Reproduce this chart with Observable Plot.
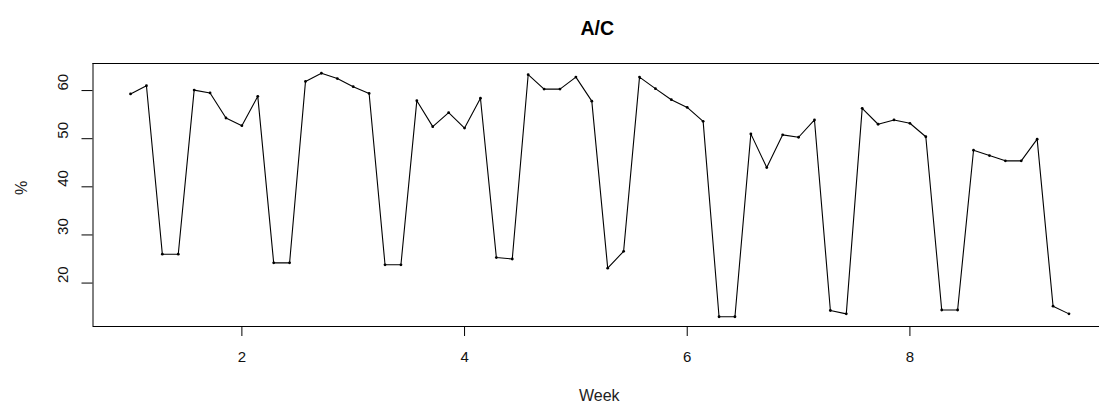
<!DOCTYPE html>
<html>
<head>
<meta charset="utf-8">
<script src="https://cdn.jsdelivr.net/npm/d3@7"></script>
<script src="https://cdn.jsdelivr.net/npm/@observablehq/plot@0.6"></script>
<style>
  html, body { margin: 0; padding: 0; background: #fff; overflow: hidden; }
  svg { display: block; }
</style>
</head>
<body>
<div id="chart"></div>
<script>
// Daily A/C percentage, 60 consecutive days starting at week 1
const acPercent = [
  59.3, 61.0, 26.0, 26.0, 60.1, 59.5, 54.3,
  52.7, 58.8, 24.2, 24.2, 61.9, 63.6, 62.5,
  60.8, 59.4, 23.8, 23.8, 57.9, 52.5, 55.4,
  52.2, 58.4, 25.3, 25.0, 63.3, 60.3, 60.3,
  62.8, 57.8, 23.1, 26.6, 62.8, 60.4, 58.1,
  56.5, 53.6, 13.0, 13.0, 51.0, 44.0, 50.8,
  50.3, 53.9, 14.3, 13.6, 56.3, 53.0, 53.9,
  53.2, 50.4, 14.4, 14.4, 47.6, 46.5, 45.4,
  45.4, 49.9, 15.2, 13.6
];
const startWeek = 1;
const daysPerWeek = 7;
const xTicks = [2, 4, 6, 8];
const yTicks = [20, 30, 40, 50, 60];
const titleText = "A/C";
const xLabel = "Week";
const yLabel = "%";

const data = acPercent.map((v, i) => ({week: startWeek + i / daysPerWeek, pct: v}));

// R-style 4% padding of the data range
const xe = d3.extent(data, d => d.week);
const ye = d3.extent(data, d => d.pct);
const xPad = (xe[1] - xe[0]) * 0.04;
const yPad = (ye[1] - ye[0]) * 0.04;
const xDom = [xe[0] - xPad, xe[1] + xPad];
const yDom = [ye[0] - yPad, ye[1] + yPad];

const W = 1099, H = 408;
const mL = 92.5, mT = 63, mB = 82;
const xRight = 1106; // plot region extends past the picture edge

const font = "Liberation Sans, Arial, Helvetica, sans-serif";

const chart = Plot.plot({
  width: W,
  height: H,
  marginLeft: mL,
  marginRight: 0,
  marginTop: mT,
  marginBottom: mB,
  style: {fontFamily: font, fontSize: "15px", color: "#000", background: "#fff"},
  x: {domain: xDom, range: [mL, xRight]},
  y: {domain: yDom},
  marks: [
    // box (left, top, bottom; right side is cut off by the picture edge)
    Plot.ruleY([yDom[0], yDom[1]], {stroke: "#000", strokeWidth: 1}),
    Plot.ruleX([xDom[0]], {stroke: "#000", strokeWidth: 1}),
    Plot.axisX({ticks: xTicks, tickSize: 10, tickPadding: 15, tickFormat: d => String(d), label: null, fontSize: 15, stroke: "#000", fill: "#111"}),
    Plot.axisY({ticks: yTicks, tickSize: 11, tickFormat: () => "", label: null, stroke: "#000"}),
    Plot.text(yTicks, {y: d => d, text: d => String(d), frameAnchor: "left", dx: -30, rotate: -90, fontSize: 15, fill: "#111"}),
    Plot.line(data, {x: "week", y: "pct", stroke: "#000", strokeWidth: 1.1}),
    Plot.dot(data, {x: "week", y: "pct", r: 1.4, fill: "#000", stroke: null}),
    Plot.text([titleText], {frameAnchor: "top", dx: 1, dy: -42, fontSize: 19.5, fontWeight: "bold", fill: "#000"}),
    Plot.text([xLabel], {frameAnchor: "bottom", dx: 3, dy: 74, fontSize: 16, fill: "#222"}),
    Plot.text([yLabel], {frameAnchor: "left", dx: -71, rotate: -90, fontSize: 16, fill: "#222"})
  ]
});
document.getElementById("chart").appendChild(chart);
</script>
</body>
</html>
